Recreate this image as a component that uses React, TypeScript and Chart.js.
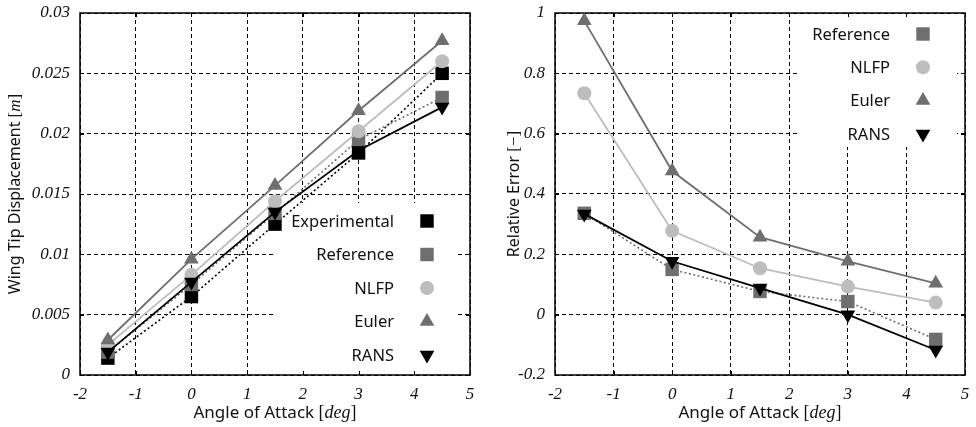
import React, { useEffect, useRef } from "react";
import { Chart, registerables } from "chart.js";

Chart.register(...registerables);

// Angle of attack stations [deg]
const angles = [-1.5, 0, 1.5, 3, 4.5];

// Wing tip displacement [m]
const dispExperimental = [0.0014, 0.0065, 0.0125, 0.0184, 0.025];
const dispReference = [0.0019, 0.0075, 0.0134, 0.0195, 0.023];
const dispNLFP = [0.0025, 0.0083, 0.0144, 0.0202, 0.026];
const dispEuler = [0.0029, 0.0096, 0.0157, 0.0219, 0.0277];
const dispRANS = [0.0019, 0.0077, 0.0135, 0.0186, 0.0222];

// Relative error with respect to the experiment [-]
const errReference = [0.336, 0.15, 0.077, 0.0435, -0.082];
const errNLFP = [0.734, 0.278, 0.154, 0.093, 0.04];
const errEuler = [0.974, 0.476, 0.257, 0.177, 0.104];
const errRANS = [0.334, 0.177, 0.088, 0.0, -0.117];

// Axis ticks
const angleTicks = [-2, -1, 0, 1, 2, 3, 4, 5];
const dispTicks = [0, 0.005, 0.01, 0.015, 0.02, 0.025, 0.03];
const errTicks = [-0.2, 0, 0.2, 0.4, 0.6, 0.8, 1];

const SANS = '"Noto Sans", "DejaVu Sans", sans-serif';
const SERIF = '"Liberation Serif", "DejaVu Serif", serif';

const BLACK = "#000000";
const GRAY = "#6e6e6e";
const LIGHT = "#bdbdbd";

type MarkerStyle = {
  color: string;
  dash: number[];
  pointStyle: "rect" | "circle" | "triangle";
  rotation: number;
  radius: number;
};

const EXPERIMENTAL: MarkerStyle = { color: BLACK, dash: [2, 2.5], pointStyle: "rect", rotation: 0, radius: 9.5 };
const REFERENCE: MarkerStyle = { color: GRAY, dash: [2, 2.5], pointStyle: "rect", rotation: 0, radius: 9.5 };
const NLFP: MarkerStyle = { color: LIGHT, dash: [], pointStyle: "circle", rotation: 0, radius: 7 };
const EULER: MarkerStyle = { color: GRAY, dash: [], pointStyle: "triangle", rotation: 0, radius: 8.5 };
const RANS: MarkerStyle = { color: BLACK, dash: [], pointStyle: "triangle", rotation: 180, radius: 8.5 };

type Series = MarkerStyle & { label: string; values: number[] };

type TextPart = { text: string; font: string };

type KeyLayout = {
  // key box edges, measured from the chart-area edges
  boxLeft: number; // from right
  boxRight: number; // from right
  boxTop: number; // from top
  boxBottom: (a: { top: number; bottom: number }) => number;
  textRight: number; // from right
  markerX: number; // from right
  firstRow: number; // from top
  rowGap: number;
};

type PanelSpec = {
  series: Series[];
  yMin: number;
  yMax: number;
  yTicks: number[];
  yAxisWidth: number;
  rightPad: number;
  yTitle: TextPart[];
  yTitleX: number;
  key: KeyLayout;
};

const sans = (size = 16) => `${size}px ${SANS}`;
const serif = (size = 16) => `${size}px ${SERIF}`;
const serifItalic = (size = 17) => `italic ${size}px ${SERIF}`;

const xTitle: TextPart[] = [
  { text: "Angle of Attack ", font: sans(17) },
  { text: "[", font: serif(18) },
  { text: "deg", font: serifItalic(18) },
  { text: "]", font: serif(18) },
];

const leftPanel: PanelSpec = {
  series: [
    { label: "Experimental", values: dispExperimental, ...EXPERIMENTAL },
    { label: "Reference", values: dispReference, ...REFERENCE },
    { label: "NLFP", values: dispNLFP, ...NLFP },
    { label: "Euler", values: dispEuler, ...EULER },
    { label: "RANS", values: dispRANS, ...RANS },
  ],
  yMin: 0,
  yMax: 0.03,
  yTicks: dispTicks,
  yAxisWidth: 80,
  rightPad: 18,
  yTitle: [
    { text: "Wing Tip Displacement ", font: sans() },
    { text: "[", font: serif(17) },
    { text: "m", font: serifItalic() },
    { text: "]", font: serif(17) },
  ],
  yTitleX: 20,
  key: {
    boxLeft: 197,
    boxRight: 13,
    boxTop: 190,
    boxBottom: (a) => a.bottom - 1,
    textRight: 76,
    markerX: 43,
    firstRow: 208,
    rowGap: 33.5,
  },
};

const rightPanel: PanelSpec = {
  series: [
    { label: "Reference", values: errReference, ...REFERENCE },
    { label: "NLFP", values: errNLFP, ...NLFP },
    { label: "Euler", values: errEuler, ...EULER },
    { label: "RANS", values: errRANS, ...RANS },
  ],
  yMin: -0.2,
  yMax: 1,
  yTicks: errTicks,
  yAxisWidth: 67,
  rightPad: 11,
  yTitle: [
    { text: "Relative Error ", font: sans() },
    { text: "[", font: serif(17) },
    { text: "\u2212", font: serif(17) },
    { text: "]", font: serif(17) },
  ],
  yTitleX: 31,
  key: {
    boxLeft: 168,
    boxRight: 8,
    boxTop: 1,
    boxBottom: (a) => a.top + 134,
    textRight: 75,
    markerX: 42,
    firstRow: 21,
    rowGap: 33.3,
  },
};

const fmt = (v: number) => String(Number(v.toFixed(4)));

function drawMixed(ctx: CanvasRenderingContext2D, parts: TextPart[], x: number, y: number) {
  let total = 0;
  const widths = parts.map((p) => {
    ctx.font = p.font;
    const w = ctx.measureText(p.text).width;
    total += w;
    return w;
  });
  let cx = x - total / 2;
  ctx.textAlign = "left";
  ctx.textBaseline = "alphabetic";
  parts.forEach((p, i) => {
    ctx.font = p.font;
    ctx.fillText(p.text, cx, y);
    cx += widths[i];
  });
}

// Same marker geometry as Chart.js uses for its point styles
function drawMarker(ctx: CanvasRenderingContext2D, s: MarkerStyle, x: number, y: number) {
  const r = s.radius;
  ctx.beginPath();
  if (s.pointStyle === "rect") {
    const h = Math.SQRT1_2 * r;
    ctx.rect(x - h, y - h, 2 * h, 2 * h);
  } else if (s.pointStyle === "circle") {
    ctx.arc(x, y, r, 0, Math.PI * 2);
  } else {
    let rad = (s.rotation * Math.PI) / 180;
    for (let k = 0; k < 3; k++) {
      const px = x + Math.sin(rad) * r;
      const py = y - Math.cos(rad) * r;
      if (k === 0) ctx.moveTo(px, py);
      else ctx.lineTo(px, py);
      rad += (2 * Math.PI) / 3;
    }
    ctx.closePath();
  }
  ctx.fillStyle = s.color;
  ctx.fill();
}

function makeChrome(spec: PanelSpec) {
  return {
    id: "chrome",
    beforeDatasetsDraw(chart: Chart) {
      const { ctx, chartArea: a } = chart;
      const k = spec.key;
      ctx.save();
      // opaque key box hides the grid behind the key
      const bl = a.right - k.boxLeft;
      const br = a.right - k.boxRight;
      const bt = a.top + k.boxTop;
      const bb = k.boxBottom(a);
      ctx.fillStyle = "#ffffff";
      ctx.fillRect(bl, bt, br - bl, bb - bt);

      // inward tick marks on all four sides
      ctx.strokeStyle = BLACK;
      ctx.lineWidth = 1;
      const xs = chart.scales.x;
      const ys = chart.scales.y;
      const tl = 4;
      angleTicks.forEach((v) => {
        const px = Math.round(xs.getPixelForValue(v)) + 0.5;
        ctx.beginPath();
        ctx.moveTo(px, a.bottom);
        ctx.lineTo(px, a.bottom - tl);
        ctx.moveTo(px, a.top);
        ctx.lineTo(px, a.top + tl);
        ctx.stroke();
      });
      spec.yTicks.forEach((v) => {
        const py = Math.round(ys.getPixelForValue(v)) + 0.5;
        ctx.beginPath();
        ctx.moveTo(a.left, py);
        ctx.lineTo(a.left + tl, py);
        ctx.moveTo(a.right, py);
        ctx.lineTo(a.right - tl, py);
        ctx.stroke();
      });

      // plot frame
      ctx.lineWidth = 1.5;
      ctx.strokeRect(a.left, a.top, a.right - a.left, a.bottom - a.top);
      ctx.restore();
    },
    afterDraw(chart: Chart) {
      const { ctx, chartArea: a } = chart;
      const k = spec.key;
      ctx.save();
      // key entries
      spec.series.forEach((s, i) => {
        const y = a.top + k.firstRow + i * k.rowGap;
        ctx.font = sans(16.5);
        ctx.textAlign = "right";
        ctx.textBaseline = "middle";
        ctx.fillStyle = "#111111";
        ctx.fillText(s.label, a.right - k.textRight, y + 1);
        drawMarker(ctx, s, a.right - k.markerX, y);
      });

      // axis titles
      ctx.fillStyle = "#111111";
      drawMixed(ctx, xTitle, (a.left + a.right) / 2, 418);
      ctx.translate(spec.yTitleX, (a.top + a.bottom) / 2);
      ctx.rotate(-Math.PI / 2);
      drawMixed(ctx, spec.yTitle, 0, 0);
      ctx.restore();
    },
  };
}

function buildConfig(spec: PanelSpec): any {
  const n = spec.series.length;
  return {
    type: "scatter",
    data: {
      datasets: spec.series.map((s, i) => ({
        label: s.label,
        data: angles.map((x, j) => ({ x, y: s.values[j] })),
        showLine: true,
        borderColor: s.color,
        backgroundColor: s.color,
        borderWidth: s.dash.length ? 1.6 : 1.8,
        borderDash: s.dash,
        pointStyle: s.pointStyle,
        pointRotation: s.rotation,
        pointRadius: s.radius,
        pointBorderWidth: 0,
        pointBackgroundColor: s.color,
        pointBorderColor: s.color,
        clip: false,
        order: n - i,
      })),
    },
    options: {
      animation: false,
      responsive: false,
      maintainAspectRatio: false,
      events: [],
      layout: { padding: { top: 13, right: spec.rightPad, left: 0, bottom: 0 } },
      plugins: {
        legend: { display: false },
        tooltip: { enabled: false },
        title: { display: false },
      },
      scales: {
        x: {
          type: "linear",
          min: -2,
          max: 5,
          afterBuildTicks: (axis: any) => {
            axis.ticks = angleTicks.map((value) => ({ value }));
          },
          afterFit: (axis: any) => {
            axis.height = 52;
            axis.paddingLeft = 0;
            axis.paddingRight = 0;
          },
          grid: { color: BLACK, lineWidth: 1, drawTicks: false },
          border: { display: false, dash: [4, 3] },
          ticks: {
            color: "#111111",
            font: { family: SERIF, size: 17, style: "italic" },
            padding: 9,
            maxRotation: 0,
            autoSkip: false,
            callback: (v: number) => fmt(v),
          },
        },
        y: {
          type: "linear",
          min: spec.yMin,
          max: spec.yMax,
          afterBuildTicks: (axis: any) => {
            axis.ticks = spec.yTicks.map((value) => ({ value }));
          },
          afterFit: (axis: any) => {
            axis.width = spec.yAxisWidth;
            axis.paddingTop = 0;
            axis.paddingBottom = 0;
          },
          grid: { color: BLACK, lineWidth: 1, drawTicks: false },
          border: { display: false, dash: [4, 3] },
          ticks: {
            color: "#111111",
            font: { family: SERIF, size: 17, style: "italic" },
            padding: 10,
            autoSkip: false,
            callback: (v: number) => fmt(v),
          },
        },
      },
    },
    plugins: [makeChrome(spec)],
  };
}

function Panel({ spec }: { spec: PanelSpec }) {
  const ref = useRef<HTMLCanvasElement>(null);
  useEffect(() => {
    const chart = new Chart(ref.current as HTMLCanvasElement, buildConfig(spec));
    return () => chart.destroy();
  }, [spec]);
  return <canvas ref={ref} width={488} height={427} style={{ display: "block", width: 488, height: 427 }} />;
}

export default function App() {
  return (
    <div
      style={{
        position: "absolute",
        left: 0,
        top: 0,
        width: 976,
        height: 427,
        display: "flex",
        background: "#ffffff",
      }}
    >
      <Panel spec={leftPanel} />
      <Panel spec={rightPanel} />
    </div>
  );
}
